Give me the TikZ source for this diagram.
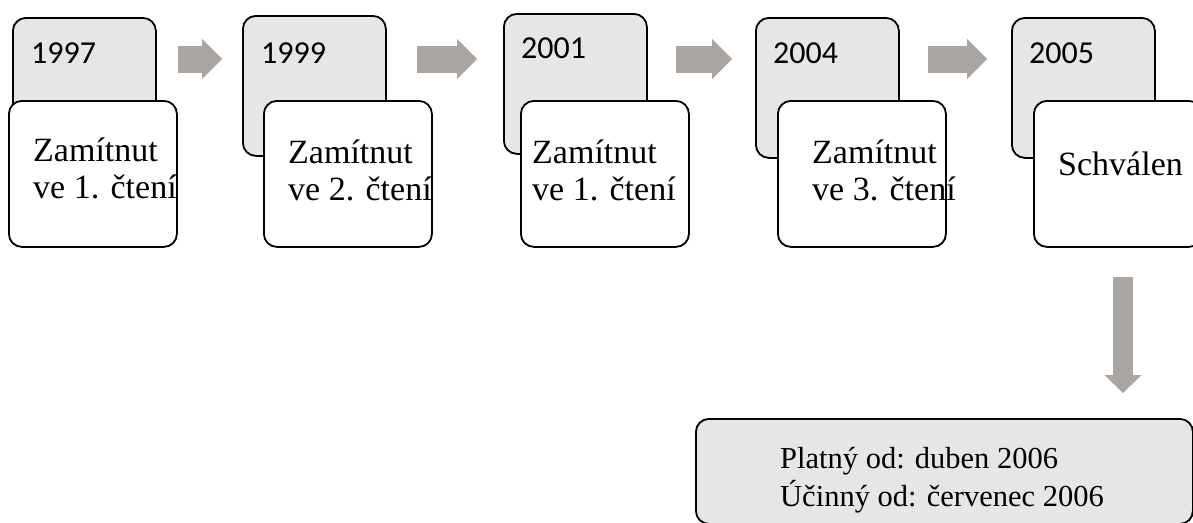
\documentclass[tikz,border=0pt]{standalone}
\usepackage{fontspec}
\setmainfont{Liberation Serif}
\newfontfamily\yearfont{Carlito}
\usetikzlibrary{arrows.meta}
\definecolor{boxgray}{RGB}{231,230,230}
\definecolor{arrgray}{RGB}{168,165,162}
\tikzset{
  yearbox/.style={draw, fill=boxgray, rounded corners=13pt, line width=1.8pt, inner sep=0pt,
    minimum width=143pt, minimum height=140pt, anchor=north west},
  stepbox/.style={draw, fill=white, rounded corners=13pt, line width=1.8pt, inner sep=0pt,
    minimum width=168pt, minimum height=146pt, anchor=north west},
  yeartext/.style={font=\yearfont\fontsize{32}{36}\selectfont, anchor=base west, inner sep=0pt},
  steptext/.style={font=\fontsize{34}{37}\selectfont, align=left, anchor=base west, inner sep=0pt},
  flow/.style={draw=arrgray, line width=27pt, -{Triangle[width=40pt, length=20pt, line width=0pt]}},
  flowdown/.style={draw=arrgray, line width=20pt, -{Triangle[width=37pt, length=18pt, line width=0pt]}}
}
\begin{document}
\begin{tikzpicture}[x=1pt, y=-1pt]
  \useasboundingbox (0,0) rectangle (1193,522);
  \clip (0,0) rectangle (1193,522);
  % year groups
  \node[yearbox] (g1) at (12,17) {};
  \node[stepbox] (w1) at (8,100) {};
  \node[yeartext] (y1) at (31,63) {1997};
  \node[steptext] (s1) at (33,198) {Zamítnut\\ve 1. čtení};
  \node[yearbox] (g2) at (242,15) {};
  \node[stepbox] (w2) at (263,100) {};
  \node[yeartext] (y2) at (261,63) {1999};
  \node[steptext] (s2) at (288,200) {Zamítnut\\ve 2. čtení};
  \node[yearbox] (g3) at (503,13) {};
  \node[stepbox] (w3) at (520,100) {};
  \node[yeartext] (y3) at (521,58) {2001};
  \node[steptext] (s3) at (532,200) {Zamítnut\\ve 1. čtení};
  \node[yearbox] (g4) at (755,17) {};
  \node[stepbox] (w4) at (777,100) {};
  \node[yeartext] (y4) at (773,63) {2004};
  \node[steptext] (s4) at (812,200) {Zamítnut\\ve 3. čtení};
  \node[yearbox] (g5) at (1011,17) {};
  \node[stepbox] (w5) at (1033,100) {};
  \node[yeartext] (y5) at (1029,63) {2005};
  \node[steptext] (s5) at (1058,175) {Schválen};
  % final state
  \node[draw, fill=boxgray, rounded corners=13pt, line width=1.8pt, inner sep=0pt, anchor=north west,
    minimum width=497pt, minimum height=105pt] (fin) at (695,418) {};
  \node[steptext, font=\fontsize{30.5}{38}\selectfont] (f1) at (780,506) {Platný od: duben 2006\\Účinný od: červenec 2006};
  % arrows
  \coordinate (arr) at (0,59);
  \draw[flow] ([xshift=21pt]g1.east |- arr) -- ([xshift=-20pt]g2.west |- arr);
  \draw[flow] ([xshift=30pt]g2.east |- arr) -- ([xshift=-26pt]g3.west |- arr);
  \draw[flow] ([xshift=28pt]g3.east |- arr) -- ([xshift=-23pt]g4.west |- arr);
  \draw[flow] ([xshift=28pt]g4.east |- arr) -- ([xshift=-24pt]g5.west |- arr);
  \coordinate (dn) at (1123,277);
  \draw[flowdown, shorten >=25pt] (dn) -- (dn |- fin.north);
\end{tikzpicture}
\end{document}
